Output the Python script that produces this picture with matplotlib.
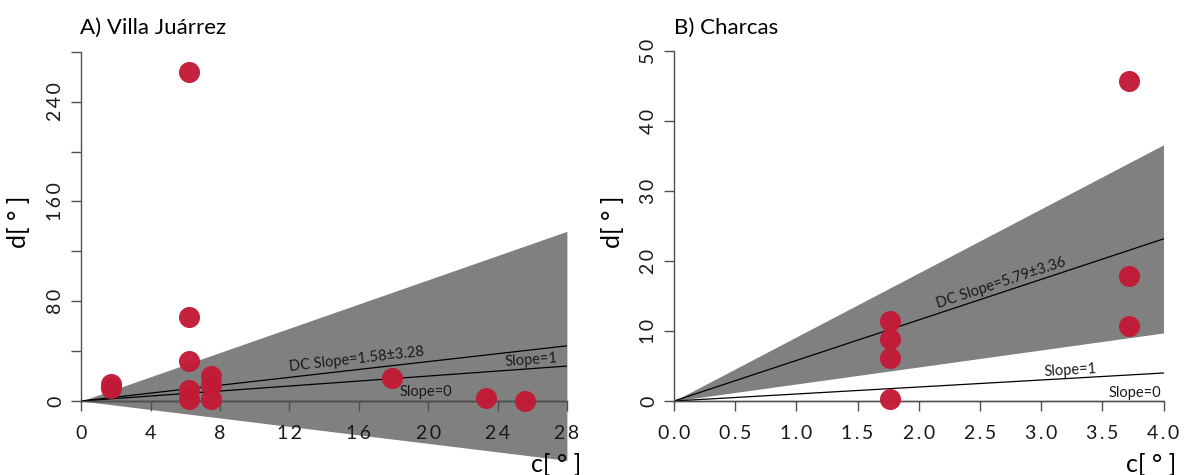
import numpy as np
import matplotlib
matplotlib.use("Agg")
import matplotlib.pyplot as plt

plt.rcParams["font.family"] = ["Lato", "DejaVu Sans"]

# Villa Juárrez
vj_c = [1.73, 1.73, 6.22, 6.22, 6.22, 6.22, 6.22, 7.47, 7.47, 7.47, 17.94, 23.33, 25.6]
vj_d = [14.0, 10.5, 264.0, 67.0, 32.0, 8.5, 1.5, 19.8, 12.8, 1.5, 18.3, 2.7, 0.3]
vj_slope, vj_err = 1.58, 3.28

# Charcas
ch_c = [1.768, 1.768, 1.768, 1.768, 3.72, 3.72, 3.72]
ch_d = [11.4, 8.9, 6.1, 0.3, 45.7, 17.9, 10.7]
ch_slope, ch_err = 5.79, 3.36

PT_COLOR = "#c21a36"
BAND = "#808080"
AXIS_GREY = "#505050"


def spaced(v, fmt):
    # loose letter spacing on the tick numbers
    return "\u2009".join(fmt.format(v))


def panel(ax, c, d, slope, err, xmax, xticks, xfmt, yticks, yminor,
          ytop, dc_pos, s1_pos, s0_pos):
    xs = np.array([0.0, xmax])
    ax.fill_between(xs, (slope - err) * xs, (slope + err) * xs,
                    color=BAND, linewidth=0, zorder=1)
    ax.plot(xs, slope * xs, color="black", lw=0.9, zorder=2)
    ax.plot(xs, xs, color="black", lw=0.9, zorder=2)
    ax.plot(xs, 0 * xs, color="black", lw=0.9, zorder=2)
    ax.scatter(c, d, s=230, color=PT_COLOR, alpha=0.97, linewidths=0,
               zorder=4, clip_on=False)

    deg = np.degrees
    ax.text(dc_pos[0], dc_pos[1], f"DC Slope={slope:.2f}\u00b1{err:.2f}",
            rotation=deg(np.arctan(slope)), transform_rotates_text=True,
            rotation_mode="anchor", ha="center", va="bottom",
            fontsize=10.5, color="#1a1a1a", zorder=3)
    ax.text(s1_pos[0], s1_pos[1], "Slope=1", rotation=45,
            transform_rotates_text=True, rotation_mode="anchor",
            ha="center", va="bottom", fontsize=10.5, color="#1a1a1a", zorder=3)
    ax.text(s0_pos[0], s0_pos[1], "Slope=0", ha="center", va="bottom",
            fontsize=10.5, color="#1a1a1a", zorder=3)

    for side in ("top", "right"):
        ax.spines[side].set_visible(False)
    ax.spines["left"].set_position(("data", 0))
    ax.spines["bottom"].set_position(("data", 0))
    ax.spines["left"].set_bounds(0, ytop)
    ax.spines["bottom"].set_bounds(0, xmax)
    for side in ("left", "bottom"):
        ax.spines[side].set_color(AXIS_GREY)
        ax.spines[side].set_linewidth(1.0)

    ax.set_xticks(xticks)
    ax.set_xticklabels([spaced(v, xfmt) for v in xticks])
    ax.set_yticks(yticks)
    ax.set_yticklabels([spaced(v, "{:.0f}") for v in yticks],
                       rotation=90, va="center")
    ax.set_yticks(yminor, minor=True)
    ax.tick_params(which="both", direction="out", length=7.2, width=1.0,
                   color=AXIS_GREY, labelsize=14, labelcolor="#1a1a1a")
    ax.tick_params(axis="x", pad=10)
    ax.tick_params(axis="y", which="both", pad=5)
    ax.set_facecolor("none")


fig = plt.figure(figsize=(11.88, 4.75), dpi=100)

ax1 = fig.add_axes([0.06827, 0.02453, 0.40892, 0.87947])
ax1.set_xlim(0, 28)
ax1.set_ylim(-50, 285)
panel(ax1, vj_c, vj_d, vj_slope, vj_err, 28,
      [0, 4, 8, 12, 16, 20, 24, 28], "{:.0f}",
      [0, 80, 160, 240], [40, 120, 200, 280], 280,
      dc_pos=(15.9, 27.5), s1_pos=(26.0, 27.5), s0_pos=(19.9, 1.5))

ax2 = fig.add_axes([0.56726, 0.03789, 0.41212, 0.88421])
ax2.set_xlim(0, 4)
ax2.set_ylim(-8, 52)
panel(ax2, ch_c, ch_d, ch_slope, ch_err, 4,
      [0, 0.5, 1, 1.5, 2, 2.5, 3, 3.5, 4], "{:.1f}",
      [0, 10, 20, 30, 40, 50], [], 50,
      dc_pos=(2.69, 15.9), s1_pos=(3.24, 3.4), s0_pos=(3.77, 0.15))

fig.text(80 / 1188, 1 - 34 / 475, "A) Villa Juárrez", fontsize=16,
         ha="left", va="baseline")
fig.text(674 / 1188, 1 - 34 / 475, "B) Charcas", fontsize=16,
         ha="left", va="baseline")

for xc in (19, 613):
    fig.text(xc / 1188, 1 - 222 / 475, "d[ ° ]", rotation=90, fontsize=18,
             ha="center", va="center")
for xc in (556, 1151):
    fig.text(xc / 1188, 2.5 / 475, "c[ ° ]", fontsize=18,
             ha="center", va="baseline")

fig.savefig("out.png", dpi=100)
